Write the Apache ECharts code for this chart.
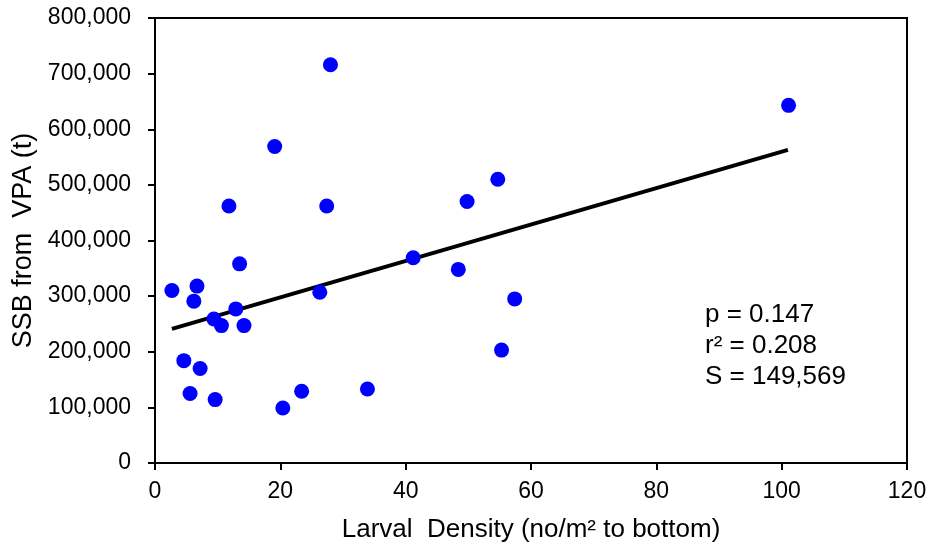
<!DOCTYPE html>
<html>
<head>
<meta charset="utf-8">
<script src="https://cdn.jsdelivr.net/npm/echarts@6/dist/echarts.min.js"></script>
<style>
html,body{margin:0;padding:0;background:#fff;}
#chart{width:934px;height:550px;}
</style>
</head>
<body>
<div id="chart"></div>
<script>
// Larval density (no/m² to bottom)
const larvalDensity = [28.0, 19.1, 11.8, 27.4, 49.8, 54.7, 2.7, 6.7, 6.2, 13.5, 9.4, 10.6, 12.9, 14.2, 26.3, 41.2, 48.4, 57.4, 55.3, 4.6, 7.2, 5.6, 9.6, 20.4, 23.4, 33.9, 101.1];
// SSB from VPA (t)
const ssb = [716000, 569000, 462000, 462000, 470000, 510000, 310000, 318000, 291000, 358000, 259000, 247000, 277000, 247000, 307000, 369000, 348000, 295000, 203000, 184000, 170000, 125000, 114000, 99000, 129000, 133000, 643000];
// fitted regression line end points
const trendX = [2.7, 101.0];
const trendY = [241000, 563000];
const statsText = ['p = 0.147', 'r² = 0.208', 'S = 149,569'];

const chart = echarts.init(document.getElementById('chart'), null, {renderer: 'canvas'});
const fontFamily = 'Arial, "Liberation Sans", sans-serif';
const scatterData = larvalDensity.map((x, i) => [x, ssb[i]]);
const trendData = trendX.map((x, i) => [x, trendY[i]]);

chart.setOption({
  animation: false,
  backgroundColor: '#fff',
  textStyle: {fontFamily: fontFamily},
  grid: {left: 155, right: 27, top: 18, bottom: 87, show: true, borderColor: '#000', borderWidth: 2, containLabel: false},
  title: {
    text: statsText.join('\n'),
    left: 700, top: 294, padding: 5,
    textStyle: {fontSize: 26, fontWeight: 'normal', color: '#000', lineHeight: 31, fontFamily: fontFamily}
  },
  xAxis: {
    type: 'value', min: 0, max: 120, interval: 20,
    name: 'Larval  Density (no/m² to bottom)',
    nameLocation: 'middle', nameGap: 54,
    nameTextStyle: {fontSize: 26, color: '#000', fontFamily: fontFamily},
    axisLine: {show: true, lineStyle: {color: '#000', width: 2}},
    axisTick: {show: true, inside: false, length: 7, lineStyle: {color: '#000', width: 2}},
    axisLabel: {fontSize: 23, color: '#000', margin: 17, fontFamily: fontFamily},
    splitLine: {show: false}
  },
  yAxis: {
    type: 'value', min: 0, max: 800000, interval: 100000,
    name: 'SSB from  VPA (t)',
    nameLocation: 'middle', nameGap: 118, nameRotate: 90,
    nameTextStyle: {fontSize: 27, color: '#000', fontFamily: fontFamily},
    axisLine: {show: true, lineStyle: {color: '#000', width: 2}},
    axisTick: {show: true, inside: false, length: 7, lineStyle: {color: '#000', width: 2}},
    axisLabel: {fontSize: 23, color: '#000', margin: 24, fontFamily: fontFamily,
      formatter: v => v.toString().replace(/\B(?=(\d{3})+(?!\d))/g, ',')},
    splitLine: {show: false}
  },
  series: [
    {
      type: 'line', data: trendData, showSymbol: false, symbol: 'none',
      lineStyle: {color: '#000', width: 4}, z: 2, silent: true
    },
    {
      type: 'scatter', data: scatterData, symbol: 'circle', symbolSize: 15,
      itemStyle: {color: '#0000FF', opacity: 1}, z: 3
    }
  ]
});
</script>
</body>
</html>
